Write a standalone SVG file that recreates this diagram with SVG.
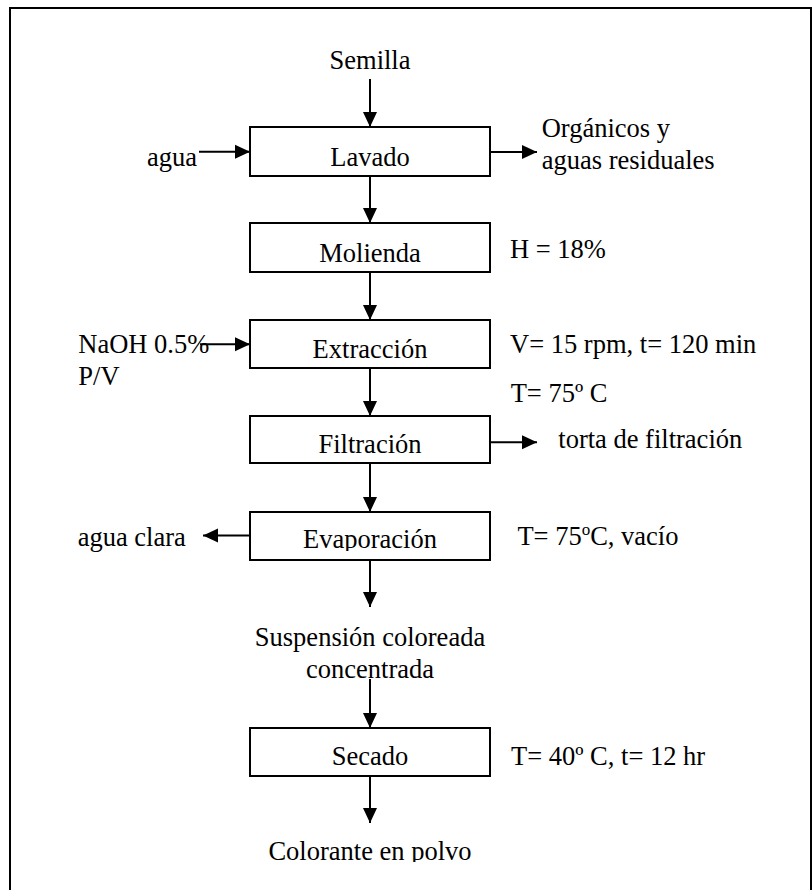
<svg xmlns="http://www.w3.org/2000/svg" width="812" height="890" viewBox="0 0 812 890">
<style>
text{font-family:"Liberation Serif","Times New Roman",serif;font-size:26.5px;fill:#000}
.c{text-anchor:middle}
.box{fill:#fff;stroke:#000;stroke-width:2}
.ln{stroke:#000;stroke-width:2;fill:none;marker-end:url(#ah)}
</style>
<defs>
<marker id="ah" markerUnits="userSpaceOnUse" markerWidth="15" markerHeight="14" refX="15" refY="7" orient="auto" overflow="visible">
<path d="M0,0 L15,7 L0,14 Z" fill="#000"/>
</marker>
<clipPath id="clipEvap"><rect x="250" y="500" width="240" height="51"/></clipPath>
<clipPath id="clipBottom"><rect x="0" y="820" width="812" height="42"/></clipPath>
</defs>
<rect width="812" height="890" fill="#fff"/>
<path d="M10,892 V8 H811 V892" fill="none" stroke="#000" stroke-width="2"/>

<g id="connectors">
<line class="ln" x1="370" y1="79" x2="370" y2="127"/>
<line class="ln" x1="199" y1="151.7" x2="250" y2="151.7"/>
<line class="ln" x1="490" y1="152" x2="537" y2="152"/>
<line class="ln" x1="370" y1="176" x2="370" y2="223"/>
<line class="ln" x1="370" y1="272" x2="370" y2="320"/>
<line class="ln" x1="200" y1="344.3" x2="250" y2="344.3"/>
<line class="ln" x1="370" y1="368" x2="370" y2="416"/>
<line class="ln" x1="490" y1="442.3" x2="537" y2="442.3"/>
<line class="ln" x1="370" y1="463" x2="370" y2="512"/>
<line class="ln" x1="250" y1="535.5" x2="203" y2="535.5"/>
<line class="ln" x1="370" y1="560" x2="370" y2="607"/>
<line class="ln" x1="370" y1="679" x2="370" y2="728"/>
<line class="ln" x1="370" y1="776" x2="370" y2="823"/>
</g>

<g id="semilla"><text class="c" x="370" y="69">Semilla</text></g>
<g id="agua"><text x="147" y="166">agua</text></g>
<g id="lavado"><rect class="box" x="250" y="127" width="240" height="49"/><text class="c" x="370" y="165.5">Lavado</text></g>
<g id="organicos"><text x="541.7" y="137.3">Orgánicos y</text><text x="541.7" y="169.3">aguas residuales</text></g>
<g id="molienda"><rect class="box" x="250" y="223" width="240" height="49"/><text class="c" x="370" y="261.5">Molienda</text></g>
<g id="humedad"><text x="510" y="258">H = 18%</text></g>
<g id="naoh"><text x="78.3" y="353.3">NaOH 0.5%</text><text x="78.3" y="385.3">P/V</text></g>
<g id="extraccion"><rect class="box" x="250" y="320" width="240" height="48"/><text class="c" x="370" y="357.5">Extracción</text></g>
<g id="cond-extraccion"><text x="510" y="352.7">V= 15 rpm, t= 120 min</text><text x="510.7" y="401.7">T= 75º C</text></g>
<g id="filtracion"><rect class="box" x="250" y="416" width="240" height="47"/><text class="c" x="370" y="453.3">Filtración</text></g>
<g id="torta"><text x="558.3" y="448.3">torta de filtración</text></g>
<g id="evaporacion"><rect class="box" x="250" y="512" width="240" height="48"/><text class="c" x="370" y="548.3" clip-path="url(#clipEvap)">Evaporación</text></g>
<g id="agua-clara"><text x="77.7" y="545.7">agua clara</text></g>
<g id="cond-evap"><text x="517.4" y="545">T= 75<tspan font-size="17" dy="-10">o</tspan><tspan dy="10">C, vacío</tspan></text></g>
<g id="suspension"><text class="c" x="370" y="646">Suspensión coloreada</text><text class="c" x="370" y="678">concentrada</text></g>
<g id="secado"><rect class="box" x="250" y="728" width="240" height="48"/><text class="c" x="370" y="765">Secado</text></g>
<g id="cond-secado"><text x="511" y="765">T= 40º C, t= 12 hr</text></g>
<g id="colorante"><text class="c" x="370" y="860" clip-path="url(#clipBottom)">Colorante en polvo</text></g>
</svg>
